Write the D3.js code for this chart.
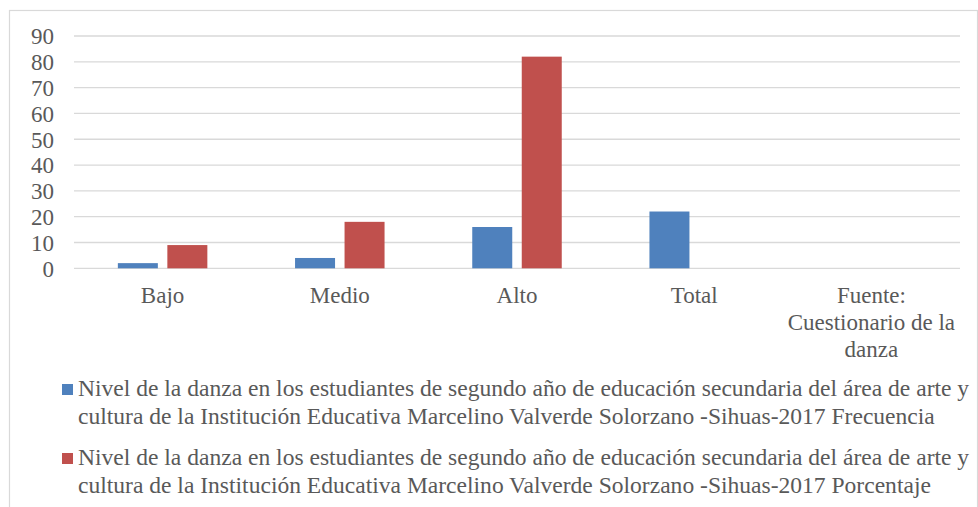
<!DOCTYPE html>
<html><head><meta charset="utf-8">
<script src="https://cdn.jsdelivr.net/npm/d3@7"></script>
<style>body{margin:0;background:#fff}svg{display:block}</style>
</head><body><svg id="c" width="978" height="507"></svg>
<script>
const categories = ["Bajo", "Medio", "Alto", "Total", "Fuente: Cuestionario de la danza"];
const categoryLines = [["Bajo"], ["Medio"], ["Alto"], ["Total"], ["Fuente:", "Cuestionario de la", "danza"]];
const frecuencia = [2, 4, 16, 22, null];
const porcentaje = [9, 18, 82, null, null];
const yTicks = [0, 10, 20, 30, 40, 50, 60, 70, 80, 90];
const seriesNames = [
  "Nivel de la danza en los estudiantes de segundo año de educación secundaria del área de arte y cultura de la Institución Educativa Marcelino Valverde Solorzano -Sihuas-2017 Frecuencia",
  "Nivel de la danza en los estudiantes de segundo año de educación secundaria del área de arte y cultura de la Institución Educativa Marcelino Valverde Solorzano -Sihuas-2017 Porcentaje"
];
const legendLines = [
  ["Nivel de la danza en los estudiantes de segundo año de educación secundaria del área de arte y", "cultura de la Institución Educativa Marcelino Valverde Solorzano -Sihuas-2017 Frecuencia"],
  ["Nivel de la danza en los estudiantes de segundo año de educación secundaria del área de arte y", "cultura de la Institución Educativa Marcelino Valverde Solorzano -Sihuas-2017 Porcentaje"]
];
const colors = ["#4f81bd", "#c0504d"];
const FONT = '"Liberation Serif", "Times New Roman", Times, serif';
const TXT = "#595959";

const svg = d3.select("#c");
svg.append("rect").attr("x", 9.5).attr("y", 10.5).attr("width", 968).attr("height", 520)
  .attr("fill", "#fff").attr("stroke", "#d9d9d9").attr("stroke-width", 1.2);

const pLeft = 74, pRight = 960, pTop = 36, pBottom = 268.3;
const x = d3.scaleBand().domain(categories).range([pLeft, pRight]).padding(0);
const y = d3.scaleLinear().domain([0, 90]).range([pBottom, pTop]);
const series = ["f", "p"];
const barW = 40, gap = 9.5;
const xs = d3.scaleOrdinal().domain(series).range([-(barW + gap / 2), gap / 2]);

// gridlines
svg.append("g").selectAll("line").data(yTicks).join("line")
  .attr("x1", pLeft).attr("x2", pRight).attr("y1", d => y(d)).attr("y2", d => y(d))
  .attr("stroke", "#d9d9d9").attr("stroke-width", 1.3);

// y axis labels
const yAxis = d3.axisLeft(y).tickValues(yTicks).tickSize(0).tickPadding(0);
const ga = svg.append("g").attr("transform", `translate(54,0)`).call(yAxis)
  .attr("font-family", FONT).attr("font-size", 23);
ga.select(".domain").remove();
ga.selectAll("text").attr("fill", TXT).attr("dy", "0.34em");

// bars
const data = [frecuencia, porcentaje];
data.forEach((vals, si) => {
  svg.append("g").selectAll("rect").data(categories.map((c, i) => ({c, v: vals[i]})).filter(d => d.v != null))
    .join("rect")
    .attr("x", d => x(d.c) + x.bandwidth() / 2 + xs(series[si]))
    .attr("width", barW)
    .attr("y", d => y(d.v))
    .attr("height", d => y(0) - y(d.v))
    .attr("fill", colors[si]);
});

// category labels
const gc = svg.append("g").attr("font-family", FONT).attr("font-size", 23).attr("fill", TXT);
categories.forEach((c, i) => {
  const cx = x(c) + x.bandwidth() / 2;
  const t = gc.append("text").attr("text-anchor", "middle").attr("x", cx);
  categoryLines[i].forEach((ln, j) => {
    t.append("tspan").attr("x", cx).attr("y", 303 + j * 27).text(ln);
  });
});

// legend
const lg = svg.append("g").attr("font-family", FONT).attr("fill", TXT);
seriesNames.forEach((name, i) => {
  const y0 = 396 + i * 69;
  lg.append("rect").attr("x", 62).attr("y", y0 - 12).attr("width", 11).attr("height", 11).attr("fill", colors[i]);
  const t = lg.append("text").attr("font-size", 23).attr("x", 78);
  t.append("title").text(name);
  legendLines[i].forEach((ln, j) => {
    t.append("tspan").attr("x", 78).attr("y", y0 + j * 28).text(ln);
  });
});
// fit legend font so first line spans the same width as the original
const first = lg.select("tspan").node();
const w = first.getComputedTextLength();
const fs = 23 * 892 / w;
lg.selectAll("text").attr("font-size", fs);
</script></body></html>
